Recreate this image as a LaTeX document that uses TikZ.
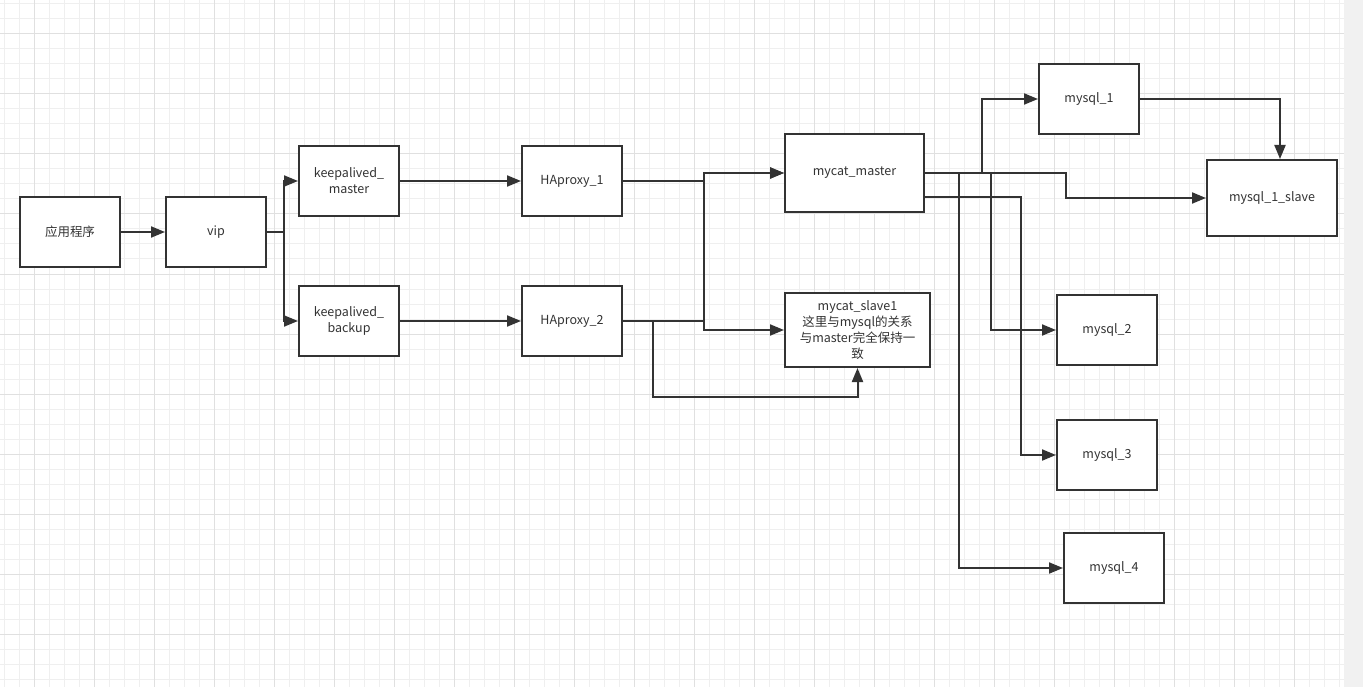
\documentclass[tikz,border=0pt]{standalone}
\usepackage{fontspec}
\setmainfont{Noto Sans CJK SC}
\usetikzlibrary{arrows.meta}
\definecolor{boxline}{HTML}{333333}
\definecolor{txtgray}{HTML}{333333}
\definecolor{gridminor}{HTML}{EFEFEF}
\definecolor{gridmajor}{HTML}{E0E0E0}
\definecolor{sidegray}{HTML}{F1F1F1}
\tikzset{
  box/.style={draw=boxline, line width=2pt, fill=white, minimum width=100pt,
    minimum height=70pt, inner sep=2pt, text=txtgray, align=center,
    font=\fontsize{12.5}{16}\selectfont},
  conn/.style={draw=boxline, line width=2pt, -{Triangle[length=14pt,width=11pt]}},
}
\begin{document}
\begin{tikzpicture}[x=1pt, y=-1pt]
    \useasboundingbox (0,0) rectangle (1363,687);
    % 背景网格
    \fill[white] (0,0) rectangle (1344,687);
    \fill[sidegray] (1344,0) rectangle (1363,687);
    \foreach \x in {4,19,...,1343} \draw[gridminor, line width=1pt] (\x,0) -- (\x,687);
    \foreach \y in {4,19,...,686} \draw[gridminor, line width=1pt] (0,\y) -- (1344,\y);
    \foreach \x in {34,94,...,1294} \draw[gridmajor, line width=1pt] (\x,0) -- (\x,687);
    \foreach \y in {34,94,...,634} \draw[gridmajor, line width=1pt] (0,\y) -- (1344,\y);
    % 接入层
    \node[box] (app) at (70,232) {应用程序};
    \node[box] (vip) at (216,232) {vip};
    \node[box] (kpmaster) at (349,181) {keepalived\_\\master};
    \node[box] (kpbackup) at (349,321) {keepalived\_\\backup};
    \node[box] (ha1) at (572,181) {HAproxy\_1};
    \node[box] (ha2) at (572,321) {HAproxy\_2};
    % mycat
    \node[box, minimum width=139pt, minimum height=78pt] (mcmaster) at (854.5,173) {mycat\_master};
    \node[box, minimum width=145pt, minimum height=74pt] (mcslave) at (857.5,330)
        {mycat\_slave1\\这里与mysql的关系\\与master完全保持一\\致};
    % mysql
    \node[box] (my1) at (1089,99) {mysql\_1};
    \node[box, minimum width=130pt, minimum height=76pt] (my1slave) at (1272,198) {mysql\_1\_slave};
    \node[box] (my2) at (1107,330) {mysql\_2};
    \node[box] (my3) at (1107,455) {mysql\_3};
    \node[box] (my4) at (1114,568) {mysql\_4};
    % 连线
    \draw[conn] (app) -- (vip);
    \draw[conn] (vip.east) -- ++(17,0) |- (kpmaster.west);
    \draw[conn] (vip.east) -- ++(17,0) |- (kpbackup.west);
    \draw[conn] (kpmaster) -- (ha1);
    \draw[conn] (kpbackup) -- (ha2);
    \draw[conn] (ha1.east) -- ++(81,0) |- (mcmaster.west);
    \draw[conn] (ha1.east) -- ++(81,0) |- (mcslave.west);
    \draw[conn] (ha2.east) -- ++(81,0) |- (mcmaster.west);
    \draw[conn] (ha2.east) -- ++(30,0) -- ++(0,76) -| (mcslave.south);
    \draw[conn] (mcmaster.east) -- ++(57,0) |- (my1.west);
    \draw[conn] (mcmaster.east) -- ++(141,0) |- (my1slave.west);
    \draw[conn] (mcmaster.east) -- ++(66,0) |- (my2.west);
    \draw[conn] ([yshift=-24pt]mcmaster.east) -- ++(96,0) |- (my3.west);
    \draw[conn] (mcmaster.east) -- ++(34,0) |- (my4.west);
    \draw[conn] (my1.east) -| ([xshift=8pt]my1slave.north);
\end{tikzpicture}
\end{document}
